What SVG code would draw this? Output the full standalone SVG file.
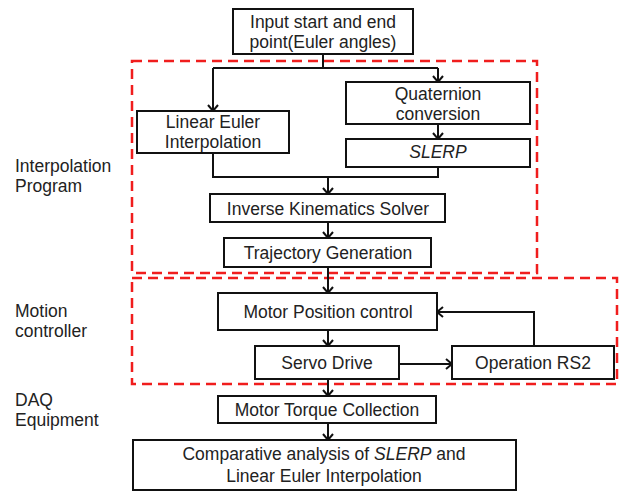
<svg xmlns="http://www.w3.org/2000/svg" width="621" height="493" viewBox="0 0 621 493">
<style>
.box{fill:#fff;stroke:#111;stroke-width:2}
.grp{fill:none;stroke:#f01d1d;stroke-width:2.5;stroke-dasharray:10 6}
.c{fill:none;stroke:#111;stroke-width:2}
.a{marker-end:url(#arr)}
text{font-family:"Liberation Sans",Arial,sans-serif;font-size:17.5px;fill:#222}
.m{text-anchor:middle}
.i{font-style:italic}
</style>
<defs>
<marker id="arr" markerUnits="userSpaceOnUse" markerWidth="14" markerHeight="14" viewBox="-8 -7 10 14" refX="0" refY="0" orient="auto">
<path d="M-6,-5 L0,0 L-6,5" fill="none" stroke="#111" stroke-width="2"/>
</marker>
</defs>
<rect class="grp" x="132" y="61" width="405" height="212"/>
<rect class="grp" x="132" y="278" width="485" height="106"/>
<g id="labels">
<text x="15" y="172">Interpolation</text>
<text x="15" y="192">Program</text>
<text x="15" y="317">Motion</text>
<text x="15" y="337">controller</text>
<text x="15" y="406">DAQ</text>
<text x="15" y="426">Equipment</text>
</g>
<g id="connectors">
<path class="c" d="M323,54 V68 M213,68 H438"/>
<path class="c a" d="M213,68 V111"/>
<path class="c a" d="M438,68 V82"/>
<path class="c a" d="M438,124 V139"/>
<path class="c" d="M213,153 V177 H438 V167"/>
<path class="c a" d="M328,177 V194"/>
<path class="c a" d="M328,222 V238"/>
<path class="c a" d="M328,267 V293"/>
<path class="c a" d="M328,330 V346"/>
<path class="c a" d="M399,364 H452"/>
<path class="c a" d="M534,346 V312 H437"/>
<path class="c a" d="M328,379 V396"/>
<path class="c a" d="M328,423 V440"/>
</g>
<g id="input"><rect class="box" x="233" y="9" width="180" height="45"/><text class="m" x="323" y="28">Input start and end</text><text class="m" x="323" y="48">point(Euler angles)</text></g>
<g id="linear"><rect class="box" x="137" y="111" width="152" height="42"/><text class="m" x="213" y="128">Linear Euler</text><text class="m" x="213" y="148">Interpolation</text></g>
<g id="quat"><rect class="box" x="346" y="82" width="184" height="42"/><text class="m" x="438" y="100">Quaternion</text><text class="m" x="438" y="120">conversion</text></g>
<g id="slerp"><rect class="box" x="346" y="139" width="184" height="28"/><text class="m i" x="438" y="158">SLERP</text></g>
<g id="ik"><rect class="box" x="210" y="194" width="235" height="28"/><text class="m" x="328" y="215">Inverse Kinematics Solver</text></g>
<g id="traj"><rect class="box" x="224" y="238" width="207" height="29"/><text class="m" x="328" y="259">Trajectory Generation</text></g>
<g id="mpc"><rect class="box" x="218" y="293" width="219" height="37"/><text class="m" x="328" y="318">Motor Position control</text></g>
<g id="servo"><rect class="box" x="255" y="346" width="144" height="33"/><text class="m" x="327" y="369">Servo Drive</text></g>
<g id="op"><rect class="box" x="452" y="346" width="162" height="33"/><text class="m" x="533" y="369">Operation RS2</text></g>
<g id="torque"><rect class="box" x="218" y="396" width="218" height="27"/><text class="m" x="327" y="416">Motor Torque Collection</text></g>
<g id="comp"><rect class="box" x="133" y="440" width="383" height="50"/><text class="m" x="324" y="460">Comparative analysis of <tspan class="i">SLERP</tspan> and</text><text class="m" x="324" y="482">Linear Euler Interpolation</text></g>
</svg>
